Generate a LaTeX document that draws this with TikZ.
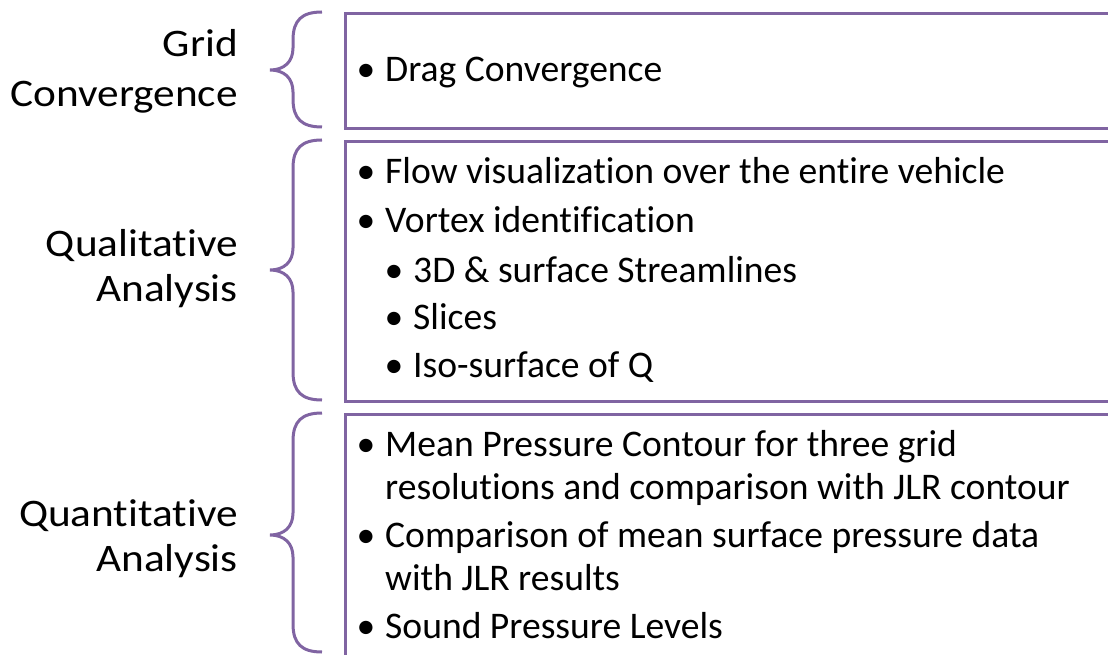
\documentclass[tikz,border=0pt]{standalone}
\usepackage{fontspec}
\setmainfont{Carlito}[Ligatures={NoCommon,NoContextual}]
\newfontfamily\lblfont{Carlito}[FakeStretch=1.11,Ligatures={NoCommon,NoContextual}]
\usepackage{tikz}
\usetikzlibrary{positioning}
\definecolor{frame}{HTML}{8064A2}

\begin{document}
\begin{tikzpicture}[x=1pt,y=-1pt,
  box/.style={draw=frame,line width=3pt,anchor=north west,minimum width=800pt,inner sep=0pt},
  brc/.style={draw=frame,line width=3pt},
  lbl/.style={anchor=base east,inner sep=0pt,font=\lblfont\fontsize{39}{46}\selectfont},
  itm/.style={anchor=base west,inner sep=0pt,font=\fontsize{37.6}{45}\selectfont},
  blt/.style={anchor=base,inner sep=0pt,font=\fontsize{37.6}{45}\selectfont}]
  \useasboundingbox (0,0) rectangle (1108,655);
  \clip (0,0) rectangle (1108,655);
  % boxes, open past the right edge
  \node[box,minimum height=115pt] (gc) at (344,12) {};
  \node[box,minimum height=260pt] (ql) at (344,140) {};
  \node[box,minimum height=260pt] (qn) at (344,413) {};
  % braces: top / tip / bottom
  \foreach \t/\m/\b in {12/70/127,140/270/400,413/535/652}
    \draw[brc] (322,\t) .. controls (302,\t) and (293,{\t+8}) .. (293,{\t+28})
      -- (293,{\m-22}) .. controls (293,{\m-8}) and (284,\m) .. (270,\m)
      .. controls (284,\m) and (293,{\m+8}) .. (293,{\m+22})
      -- (293,{\b-28}) .. controls (293,{\b-8}) and (302,\b) .. (322,\b);
  % labels
  \node[lbl] (gcl1) at (238,57) {Grid};
  \node[lbl] (gcl2) at (238,107) {Convergence};
  \node[lbl] (qll1) at (238,256) {Qualitative};
  \node[lbl] (qll2) at (238,301) {Analysis};
  \node[lbl] (qnl1) at (238,526) {Quantitative};
  \node[lbl] (qnl2) at (238,571) {Analysis};
  % grid convergence
  \node[blt] at (366,82) {\textbullet};
  \node[itm] (drag) at (385,82) {Drag Convergence};
  % qualitative
  \node[blt] at (366,184) {\textbullet};
  \node[itm] (flow) at (385,184) {Flow visualization over the entire vehicle};
  \node[blt] at (366,233) {\textbullet};
  \node[itm] (vort) at (385,233) {Vortex identification};
  \node[blt] at (394,282) {\textbullet};
  \node[itm] (strm) at (413,282) {3D \& surface Streamlines};
  \node[blt] at (394,329) {\textbullet};
  \node[itm] (slic) at (413,329) {Slices};
  \node[blt] at (394,377) {\textbullet};
  \node[itm] (isoq) at (413,377) {Iso-surface of Q};
  % quantitative
  \node[blt] at (366,456) {\textbullet};
  \node[itm] (mpc1) at (385,456) {Mean Pressure Contour for three grid};
  \node[itm] (mpc2) at (385,499) {resolutions and comparison with JLR contour};
  \node[blt] at (366,547) {\textbullet};
  \node[itm] (cmp1) at (385,547) {Comparison of mean surface pressure data};
  \node[itm] (cmp2) at (385,590) {with JLR results};
  \node[blt] at (366,638) {\textbullet};
  \node[itm] (spl) at (385,638) {Sound Pressure Levels};
\end{tikzpicture}
\end{document}
